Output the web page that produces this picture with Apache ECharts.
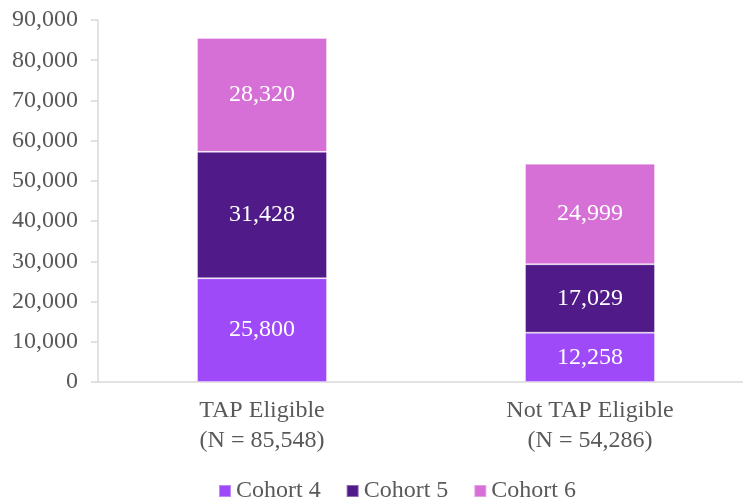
<!DOCTYPE html>
<html>
<head>
<meta charset="utf-8">
<script src="https://cdn.jsdelivr.net/npm/echarts@6/dist/echarts.min.js"></script>
<style>html,body{margin:0;padding:0;background:#fff;overflow:hidden;}#chart{width:754px;height:500px;}</style>
</head>
<body>
<div id="chart"></div>
<script>
var categories = ['TAP Eligible\n(N = 85,548)', 'Not TAP Eligible\n(N = 54,286)'];
var cohort4 = [25800, 12258];
var cohort5 = [31428, 17029];
var cohort6 = [28320, 24999];
var seriesNames = ['Cohort 4', 'Cohort 5', 'Cohort 6'];
var colors = ['#9e4af8', '#501a88', '#d670d6'];

var font = '"Liberation Serif", "Times New Roman", serif';
function fmt(v){ return v.toLocaleString('en-US'); }

// plot area runs a little past the right edge of the window, like the original
function mk(name, data, color){
    return {name:name, type:'bar', stack:'total', data:data, barWidth:130,
        itemStyle:{color:color, borderColor:'rgba(255,255,255,0.35)', borderWidth:1},
        label:{show:true, position:'inside', color:'#fff', fontFamily:font, fontSize:24,
            formatter:function(p){return fmt(p.value);}}};
}

var chart = echarts.init(document.getElementById('chart'));
chart.setOption({
    animation:false,
    grid:{left:98, top:20, right:0, height:362, containLabel:false},
    legend:{left:218, top:479, padding:0, itemWidth:12, itemHeight:12, itemGap:25,
        icon:'rect', textStyle:{fontFamily:font, fontSize:24, color:'#595959'},
        data:seriesNames},
    xAxis:{type:'category', data:categories,
        axisLine:{lineStyle:{color:'#d9d9d9', width:1.5}},
        axisTick:{show:false},
        axisLabel:{fontFamily:font, fontSize:24, color:'#595959', lineHeight:30, margin:14}},
    yAxis:{type:'value', min:0, max:90000, interval:10000,
        axisLine:{show:true, lineStyle:{color:'#d9d9d9', width:1.5}},
        axisTick:{show:true, length:7, lineStyle:{color:'#d9d9d9', width:1.5}},
        splitLine:{show:false},
        axisLabel:{fontFamily:font, fontSize:24, color:'#595959', margin:20,
            formatter:function(v){return fmt(v);}}},
    series:[mk(seriesNames[0], cohort4, colors[0]), mk(seriesNames[1], cohort5, colors[1]), mk(seriesNames[2], cohort6, colors[2])]
});
</script>
</body>
</html>
